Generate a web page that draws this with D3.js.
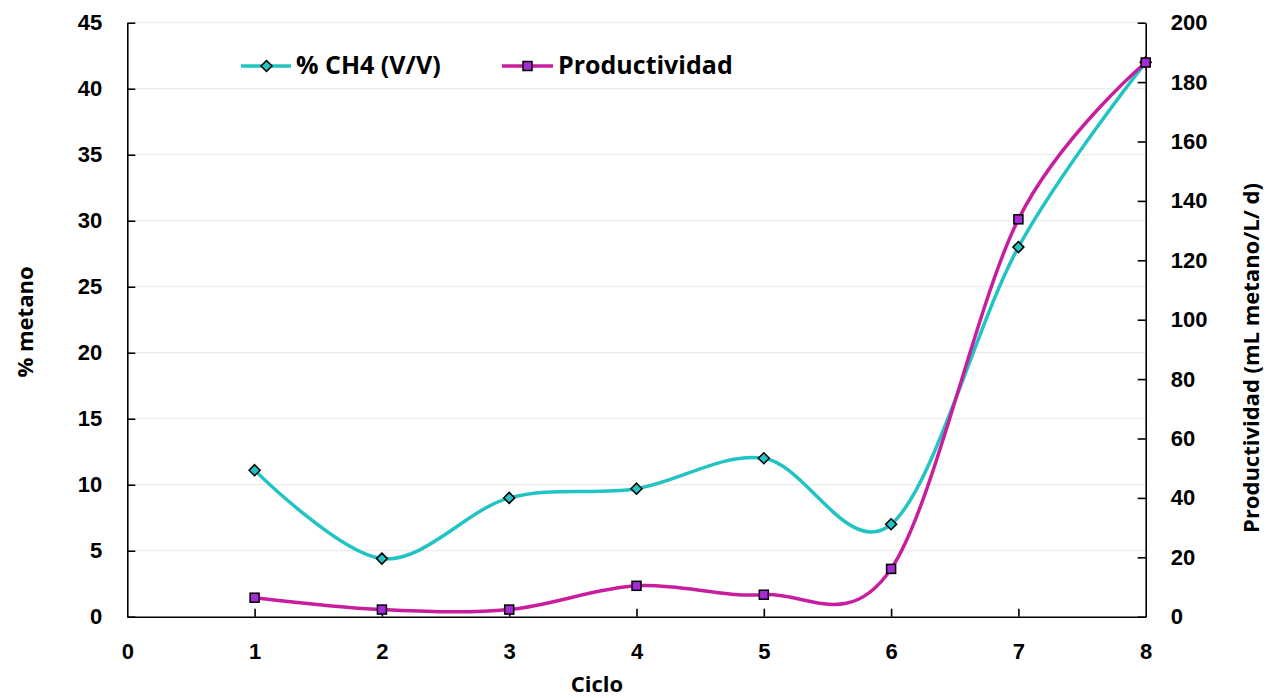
<!DOCTYPE html>
<html>
<head>
<meta charset="utf-8">
<script src="https://cdn.jsdelivr.net/npm/d3@7"></script>
<style>
  html, body { margin: 0; padding: 0; background: #fff; }
  svg { display: block; font-family: "Open Sans", "Liberation Sans", sans-serif; font-weight: 700; }
</style>
</head>
<body>
<svg id="chart" width="1267" height="698"></svg>
<script>
// Ciclos de operación
const ciclos = [1, 2, 3, 4, 5, 6, 7, 8];
// % CH4 (V/V) en el biogás
const metano = [11.1, 4.4, 9.0, 9.7, 12.0, 7.0, 28.0, 42.0];
// Productividad (mL metano/L/ d)
const productividad = [6.4, 2.4, 2.4, 10.4, 7.4, 16.1, 133.8, 186.6];

const xTicks = [0, 1, 2, 3, 4, 5, 6, 7, 8];
const yLeftTicks = [0, 5, 10, 15, 20, 25, 30, 35, 40, 45];
const yRightTicks = [0, 20, 40, 60, 80, 100, 120, 140, 160, 180, 200];

const colCH4 = "#22C3C3";
const colProd = "#C81E9E";
const markCH4 = "#22C3C3";
const markProd = "#A52BD6";

const svg = d3.select("#chart");
const plotL = 127.3, plotR = 1145.7, plotT = 22.7, plotB = 616.7;

const x = d3.scaleLinear().domain([0, 8]).range([plotL, plotR]);
const yL = d3.scaleLinear().domain([0, 45]).range([plotB, plotT]);
const yR = d3.scaleLinear().domain([0, 200]).range([plotB, plotT]);

// Líneas de cuadrícula horizontales
svg.append("g").selectAll("line")
  .data(yLeftTicks.filter(d => d > 0))
  .join("line")
  .attr("x1", plotL + 8).attr("x2", plotR)
  .attr("y1", d => yL(d)).attr("y2", d => yL(d))
  .attr("stroke", "#ececec").attr("stroke-width", 1.2);

// Ejes
const axisStyle = g => {
  g.select(".domain").attr("stroke", "#000").attr("stroke-width", 1.6);
  g.selectAll(".tick line").attr("stroke", "#000").attr("stroke-width", 1.6);
  g.selectAll(".tick text").attr("fill", "#000").style("font-size", "22px").style("font-weight", 700);
};

svg.append("g")
  .attr("transform", `translate(${plotL},0)`)
  .call(d3.axisLeft(yL).tickValues(yLeftTicks).tickSizeInner(-8).tickSizeOuter(0).tickPadding(25))
  .call(axisStyle);

svg.append("g")
  .attr("transform", `translate(${plotR},0)`)
  .call(d3.axisRight(yR).tickValues(yRightTicks).tickSizeInner(-8).tickSizeOuter(0).tickPadding(25))
  .call(axisStyle);

const xAxis = svg.append("g")
  .attr("transform", `translate(0,${plotB})`)
  .call(d3.axisBottom(x).tickValues(xTicks).tickSizeInner(-8).tickSizeOuter(0).tickPadding(27))
  .call(axisStyle);
xAxis.selectAll(".tick line").filter(d => d === 0 || d === 8).remove();

// Títulos de ejes
svg.append("text")
  .attr("x", 597).attr("y", 692)
  .attr("text-anchor", "middle").style("font-size", "22px").text("Ciclo");

svg.append("text")
  .attr("transform", `translate(33,322) rotate(-90)`)
  .attr("text-anchor", "middle").style("font-size", "22px").text("% metano");

svg.append("text")
  .attr("transform", `translate(1259,358) rotate(-90)`)
  .attr("text-anchor", "middle").style("font-size", "22px").text("Productividad (mL metano/L/ d)");

// Curvas suavizadas
const curve = d3.curveCardinal.tension(0);
const lineCH4 = d3.line().x((d, i) => x(ciclos[i])).y(d => yL(d)).curve(curve);
const lineProd = d3.line().x((d, i) => x(ciclos[i])).y(d => yR(d)).curve(curve);

svg.append("path").attr("d", lineCH4(metano))
  .attr("fill", "none").attr("stroke", colCH4).attr("stroke-width", 3.5);
svg.append("path").attr("d", lineProd(productividad))
  .attr("fill", "none").attr("stroke", colProd).attr("stroke-width", 3.5);

// Marcadores
const diamond = (cx, cy, r) => `M${cx},${cy - r}L${cx + r},${cy}L${cx},${cy + r}L${cx - r},${cy}Z`;
svg.append("g").selectAll("path")
  .data(metano)
  .join("path")
  .attr("d", (d, i) => diamond(x(ciclos[i]), yL(d), 5.5))
  .attr("fill", markCH4).attr("stroke", "#000").attr("stroke-width", 1.5);

svg.append("g").selectAll("rect")
  .data(productividad)
  .join("rect")
  .attr("x", (d, i) => x(ciclos[i]) - 4.5).attr("y", d => yR(d) - 4.5)
  .attr("width", 9).attr("height", 9)
  .attr("fill", markProd).attr("stroke", "#000").attr("stroke-width", 1.5);

// Leyenda
const legend = svg.append("g");
legend.append("line").attr("x1", 241).attr("x2", 291).attr("y1", 66).attr("y2", 66)
  .attr("stroke", colCH4).attr("stroke-width", 3.5);
legend.append("path").attr("d", diamond(266.5, 66, 5.5))
  .attr("fill", markCH4).attr("stroke", "#000").attr("stroke-width", 1.5);
legend.append("text").attr("x", 296).attr("y", 74).style("font-size", "25px").text("% CH4 (V/V)");

legend.append("line").attr("x1", 502).attr("x2", 553).attr("y1", 66).attr("y2", 66)
  .attr("stroke", colProd).attr("stroke-width", 3.5);
legend.append("rect").attr("x", 523).attr("y", 61.5).attr("width", 9).attr("height", 9)
  .attr("fill", markProd).attr("stroke", "#000").attr("stroke-width", 1.5);
legend.append("text").attr("x", 558).attr("y", 74).style("font-size", "25px").text("Productividad");
</script>
</body>
</html>
